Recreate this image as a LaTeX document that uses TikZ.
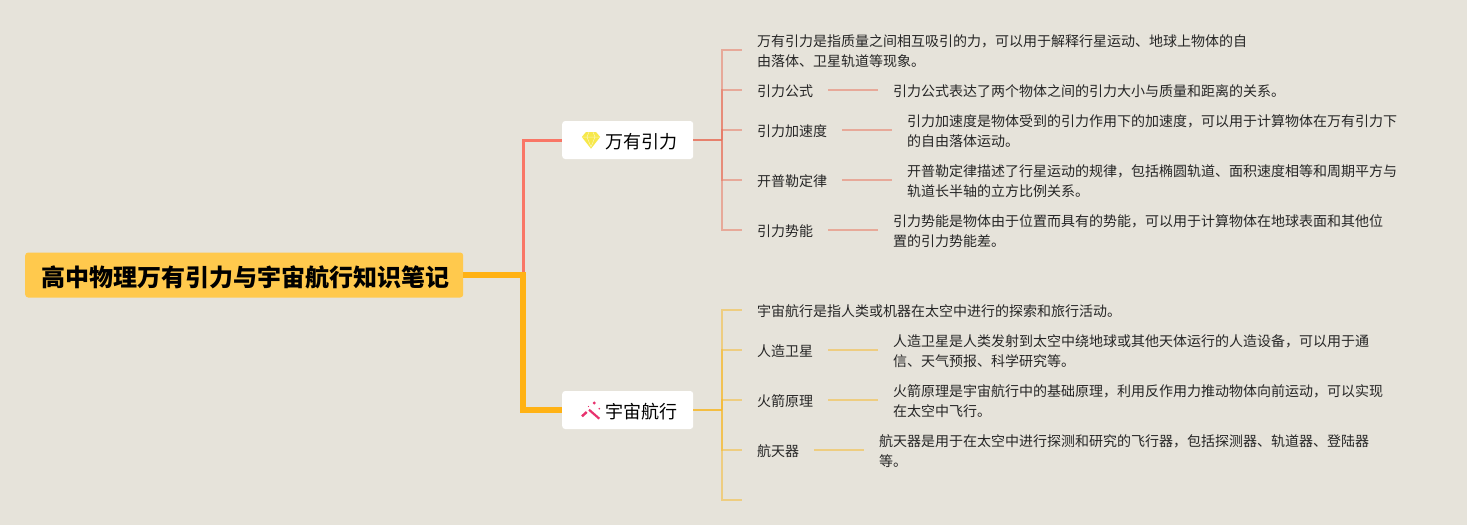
\documentclass[tikz,border=0pt]{standalone}
\usepackage{fontspec}
\setmainfont{Noto Sans CJK SC}
\usetikzlibrary{positioning}
\definecolor{paperbg}{RGB}{230, 227, 218}
\definecolor{rootyellow}{RGB}{255, 201, 77}
\definecolor{trunkorange}{RGB}{255, 178, 20}
\definecolor{trunkred}{RGB}{249, 118, 102}
\definecolor{branchred}{RGB}{232, 112, 90}
\definecolor{branchgold}{RGB}{247, 184, 40}
\definecolor{gemyellow}{RGB}{247, 232, 74}
\definecolor{wandpink}{RGB}{232, 50, 110}
\tikzset{
    % Central title
    root box/.style={
        rectangle, rounded corners=3pt, fill=rootyellow, inner xsep=15pt, inner ysep=0pt,
        minimum height=45pt, text height=22pt, text depth=0pt,
        font=\fontsize{24}{28}\selectfont\bfseries
    },
    % Two main topics
    topic box/.style={
        rectangle, rounded corners=3pt, fill=white, inner xsep=15.5pt, inner ysep=0pt,
        minimum height=38pt, text height=16pt, text depth=0pt,
        font=\fontsize{18}{22}\selectfont
    },
    % Texts on the branches
    note/.style={
        rectangle, inner xsep=15pt, inner ysep=0pt, outer sep=0pt, align=left,
        font=\fontsize{14}{20}\selectfont, text=black!85
    },
    % Lines
    trunk red/.style={draw=trunkred, line width=3pt},
    trunk orange/.style={draw=trunkorange, line width=5.5pt},
    red line/.style={draw=branchred, line width=1.8pt, opacity=0.5, transform canvas={yshift=1.5pt}},
    gold line/.style={draw=branchgold, line width=1.8pt, opacity=0.5, transform canvas={yshift=1.5pt}}
}
\begin{document}
\begin{tikzpicture}[x=1pt, y=-1pt]

    % Page
    \path[fill=paperbg, use as bounding box] (0, 0) rectangle (1467, 525);

    % Title and topics
    \node[root box, anchor=west] (Root) at (25, 275) {\hspace*{1pt}高中物理万有引力与宇宙航行知识笔记\hspace*{-1pt}};
    \node[topic box, anchor=west] (Wanyou) at (562, 140) {\hspace*{28pt}万有引力};
    \node[topic box, anchor=west] (Yuzhou) at (562, 410) {\hspace*{28pt}宇宙航行};

    % Icons
    \begin{scope}[shift={(Wanyou.west)}]
        \fill[gemyellow] (24, -8) -- (34, -8) -- (38.2, -3) -- (29, 8.7) -- (19.8, -3) -- cycle;
        \draw[white, opacity=0.6, line width=0.5pt] (20, -3) -- (38, -3) (25, -3) -- (29, 7) -- (33, -3)
            (25, -3) -- (27, -8) (33, -3) -- (31, -8);
    \end{scope}
    \begin{scope}[shift={(Yuzhou.west)}, wandpink]
        \draw[line width=2.2pt] (27, -0.3) -- (37.3, 8.7);
        \draw[line width=2.4pt] (20, 6.3) -- (24.7, 2);
        \fill (32.3, -7) circle (1.6pt);
        \fill (37.3, -1.3) circle (0.9pt);
        \fill (26.5, -3.5) circle (0.6pt);
    \end{scope}

    % Trunk
    \coordinate (Turn) at (523, 275);
    \draw[trunk red] (Turn) |- (Wanyou.west);
    \draw[trunk orange] (Root.east) -- (Turn) |- (Yuzhou.west);

    % Notes of the first topic
    \node[note, anchor=west] (W0) at (742, 51.5) {万有引力是指质量之间相互吸引的力，可以用于解释行星运动、地球上物体的自\\由落体、卫星轨道等现象。};
    \node[note, anchor=west] (W1) at (742, 91.5) {引力公式};
    \node[note, right=50pt of W1] (W1a) {引力公式表达了两个物体之间的引力大小与质量和距离的关系。};
    \node[note, anchor=west] (W2) at (742, 131.5) {引力加速度};
    \node[note, right=50pt of W2] (W2a) {引力加速度是物体受到的引力作用下的加速度，可以用于计算物体在万有引力下\\的自由落体运动。};
    \node[note, anchor=west] (W3) at (742, 181.5) {开普勒定律};
    \node[note, right=50pt of W3] (W3a) {开普勒定律描述了行星运动的规律，包括椭圆轨道、面积速度相等和周期平方与\\轨道长半轴的立方比例关系。};
    \node[note, anchor=west] (W4) at (742, 231.5) {引力势能};
    \node[note, right=50pt of W4] (W4a) {引力势能是物体由于位置而具有的势能，可以用于计算物体在地球表面和其他位\\置的引力势能差。};

    % Notes of the second topic
    \node[note, anchor=west] (Y0) at (742, 311.5) {宇宙航行是指人类或机器在太空中进行的探索和旅行活动。};
    \node[note, anchor=west] (Y1) at (742, 351.5) {人造卫星};
    \node[note, right=50pt of Y1] (Y1a) {人造卫星是人类发射到太空中绕地球或其他天体运行的人造设备，可以用于通\\信、天气预报、科学研究等。};
    \node[note, anchor=west] (Y2) at (742, 401.5) {火箭原理};
    \node[note, right=50pt of Y2] (Y2a) {火箭原理是宇宙航行中的基础原理，利用反作用力推动物体向前运动，可以实现\\在太空中飞行。};
    \node[note, anchor=west] (Y3) at (742, 451.5) {航天器};
    \node[note, right=50pt of Y3] (Y3a) {航天器是用于在太空中进行探测和研究的飞行器，包括探测器、轨道器、登陆器\\等。};
    \coordinate (Y4) at (742, 501.5);

    % Brackets
    \coordinate (WFork) at (722, 141.5);
    \coordinate (YFork) at (722, 411.5);
    \draw[draw=branchred, line width=2pt, opacity=0.85, transform canvas={yshift=1.5pt}] (WFork -| Wanyou.east) -- (WFork);
    \draw[red line] (WFork) |- (W0.west);
    \draw[red line] (WFork) |- (W1.west);
    \draw[red line] (WFork) |- (W2.west);
    \draw[red line] (WFork) |- (W3.west);
    \draw[red line] (WFork) |- (W4.west);
    \draw[draw=branchgold, line width=2pt, opacity=0.85, transform canvas={yshift=1.5pt}] (YFork -| Yuzhou.east) -- (YFork);
    \draw[gold line] (YFork) |- (Y0.west);
    \draw[gold line] (YFork) |- (Y1.west);
    \draw[gold line] (YFork) |- (Y2.west);
    \draw[gold line] (YFork) |- (Y3.west);
    \draw[gold line] (YFork) |- (Y4);

    % Links to the long notes
    \draw[red line] (W1.east) -- (W1a.west);
    \draw[red line] (W2.east) -- (W2a.west);
    \draw[red line] (W3.east) -- (W3a.west);
    \draw[red line] (W4.east) -- (W4a.west);
    \draw[gold line] (Y1.east) -- (Y1a.west);
    \draw[gold line] (Y2.east) -- (Y2a.west);
    \draw[gold line] (Y3.east) -- (Y3a.west);

\end{tikzpicture}
\end{document}
